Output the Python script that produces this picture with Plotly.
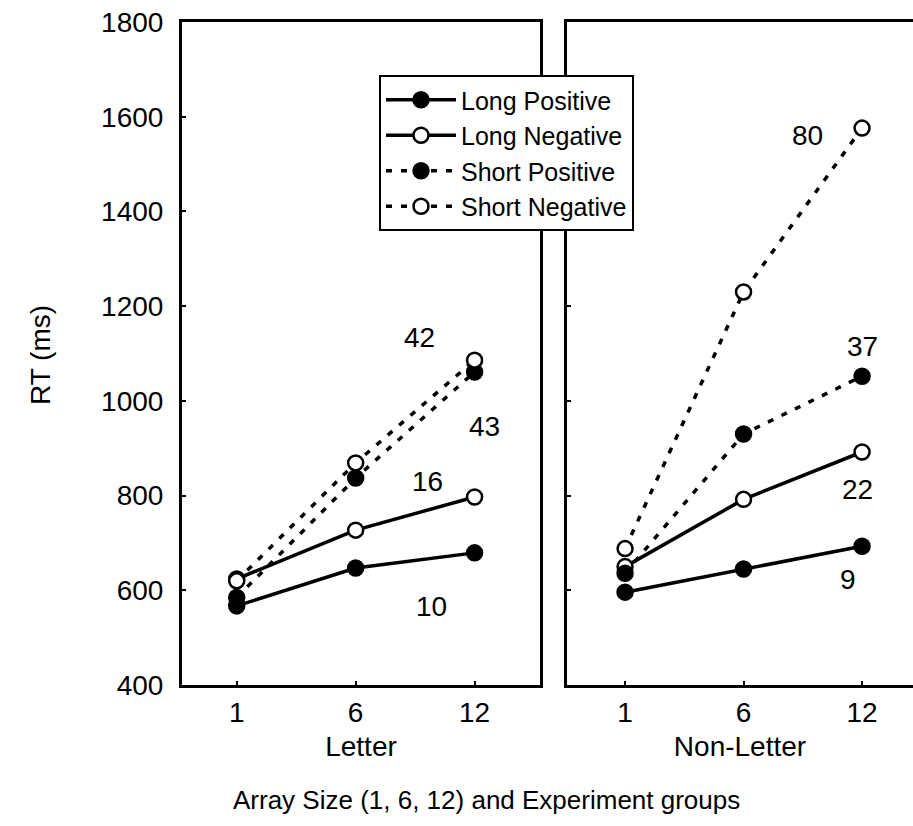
import plotly.graph_objects as go

# ---- data ----
array_sizes = ["1", "6", "12"]
groups = ["Letter", "Non-Letter"]
series_names = ["Long Positive", "Long Negative", "Short Positive", "Short Negative"]

letter_long_pos = [567, 647, 679]
letter_long_neg = [624, 727, 797]
letter_short_pos = [585, 837, 1061]
letter_short_neg = [620, 869, 1086]

nonletter_long_pos = [596, 645, 693]
nonletter_long_neg = [650, 792, 892]
nonletter_short_pos = [636, 930, 1052]
nonletter_short_neg = [688, 1230, 1576]

slope_labels_letter = ["42", "43", "16", "10"]
slope_labels_nonletter = ["80", "37", "22", "9"]

y_ticks = [400, 600, 800, 1000, 1200, 1400, 1600, 1800]

# ---- layout helpers (positions, not data) ----
slope_pos_letter = [(1.54, 1133), (2.08, 945), (1.60, 829), (1.64, 565)]
slope_pos_nonletter = [(1.54, 1561), (2.00, 1114), (1.96, 812), (1.88, 622)]

FONT = "Liberation Sans, Arial, sans-serif"
W, H = 913, 826

styles = {
    "Long Positive": dict(filled=True, dash="solid"),
    "Long Negative": dict(filled=False, dash="solid"),
    "Short Positive": dict(filled=True, dash="6px,9px"),
    "Short Negative": dict(filled=False, dash="6px,9px"),
}

fig = go.Figure()

panels = [
    ("x", "y", [letter_long_pos, letter_long_neg, letter_short_pos, letter_short_neg], True),
    ("x2", "y2", [nonletter_long_pos, nonletter_long_neg, nonletter_short_pos, nonletter_short_neg], False),
]

for xa, ya, vals, show in panels:
    for name, v in zip(series_names, vals):
        st = styles[name]
        fig.add_trace(go.Scatter(
            x=array_sizes, y=v, name=name, xaxis=xa, yaxis=ya,
            mode="lines+markers", showlegend=show, legendgroup=name,
            line=dict(color="black", width=3.5, dash=st["dash"]),
            marker=dict(size=15, symbol="circle",
                        color="black" if st["filled"] else "white",
                        line=dict(color="black", width=2.5)),
            cliponaxis=False, hoverinfo="skip",
        ))

ydom = [(H - 685) / H, (H - 22) / H]
axis_common = dict(showline=True, linecolor="black", linewidth=3,
                   ticks="inside", ticklen=4, tickwidth=2, tickcolor="black",
                   showgrid=False, zeroline=False, automargin=False,
                   tickfont=dict(family=FONT, size=28, color="black"))

fig.update_layout(
    template="none",
    width=W, height=H,
    margin=dict(l=0, r=0, t=0, b=0, pad=0),
    plot_bgcolor="white", paper_bgcolor="white",
    font=dict(family=FONT, size=28, color="black"),
    xaxis=dict(domain=[182 / W, 540 / W], type="category", range=[-0.46, 2.55],
               mirror=True, title=dict(text=groups[0], standoff=10,
                                       font=dict(family=FONT, size=28)),
               anchor="y", **axis_common),
    yaxis=dict(domain=ydom, range=[400, 1800], tickvals=y_ticks, mirror=True,
               anchor="x", ticklabelstandoff=10, **axis_common),
    xaxis2=dict(domain=[567 / W, 1.0], type="category", range=[-0.49, 2.43],
                mirror=True, title=dict(text=groups[1], standoff=10,
                                        font=dict(family=FONT, size=28)),
                anchor="y2", **axis_common),
    yaxis2=dict(domain=ydom, range=[400, 1800], tickvals=y_ticks, showticklabels=False,
                mirror=False, anchor="x2", **axis_common),
    legend=dict(x=379 / W, y=(H - 75) / H, xanchor="left", yanchor="top",
                bgcolor="white", bordercolor="black", borderwidth=2,
                font=dict(family=FONT, size=25, color="black"),
                itemwidth=70, tracegroupgap=0),
    hovermode=False,
)

for lbl, (px, py) in zip(slope_labels_letter, slope_pos_letter):
    fig.add_annotation(x=px, y=py, xref="x", yref="y", text=lbl, showarrow=False,
                       font=dict(family=FONT, size=28, color="black"))
for lbl, (px, py) in zip(slope_labels_nonletter, slope_pos_nonletter):
    fig.add_annotation(x=px, y=py, xref="x2", yref="y2", text=lbl, showarrow=False,
                       font=dict(family=FONT, size=28, color="black"))

fig.add_annotation(x=486 / W, y=(H - 800) / H, xref="paper", yref="paper",
                   xanchor="center", yanchor="middle",
                   text="Array Size (1, 6, 12) and Experiment groups", showarrow=False,
                   font=dict(family=FONT, size=26, color="black"))
fig.add_annotation(x=40 / W, y=(H - 355) / H, xref="paper", yref="paper",
                   xanchor="center", yanchor="middle",
                   text="RT (ms)", textangle=-90, showarrow=False,
                   font=dict(family=FONT, size=28, color="black"))

fig.write_html("out.html", config={"displayModeBar": False})
